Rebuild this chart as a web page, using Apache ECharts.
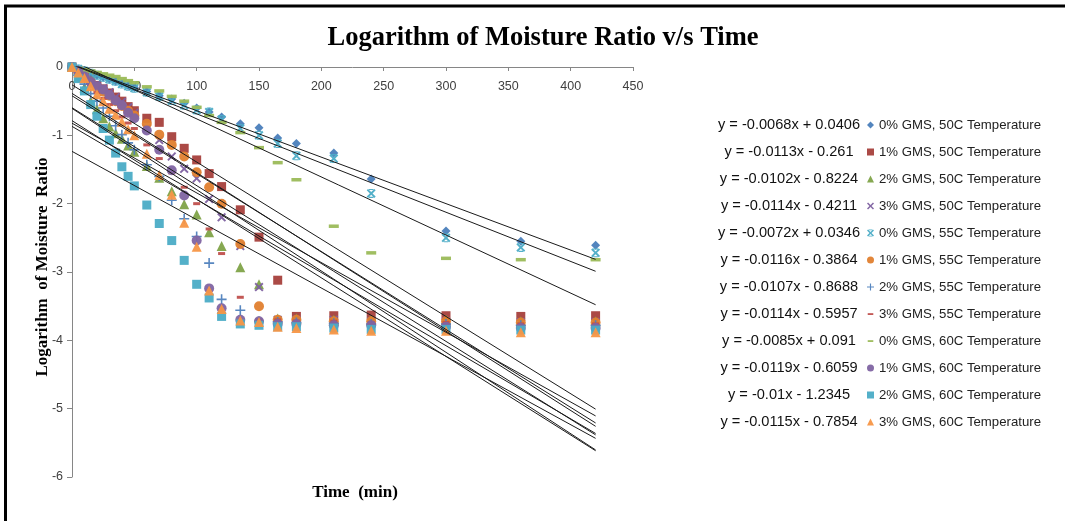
<!DOCTYPE html>
<html>
<head>
<meta charset="utf-8">
<script src="https://cdn.jsdelivr.net/npm/echarts@6/dist/echarts.min.js"></script>
<style>html,body{margin:0;padding:0;background:#fff;}#c{width:1065px;height:521px;}</style>
</head>
<body>
<div id="c"></div>
<script>
const time = [0,5,10,15,20,25,30,35,40,45,50,60,70,80,90,100,110,120,135,150,165,180,210,240,300,360,420];

const seriesNames = [
  '0% GMS, 50C Temperature','1% GMS, 50C Temperature','2% GMS, 50C Temperature','3% GMS, 50C Temperature',
  '0% GMS, 55C Temperature','1% GMS, 55C Temperature','2% GMS, 55C Temperature','3% GMS, 55C Temperature',
  '0% GMS, 60C Temperature','1% GMS, 60C Temperature','2% GMS, 60C Temperature','3% GMS, 60C Temperature'
];

const gms0_50C = [0,-0.03,-0.06,-0.09,-0.12,-0.15,-0.18,-0.21,-0.24,-0.27,-0.3,-0.36,-0.42,-0.47,-0.53,-0.6,-0.66,-0.73,-0.83,-0.89,-1.04,-1.12,-1.26,-1.64,-2.40,-2.55,-2.61];
const gms1_50C = [0,-0.06,-0.12,-0.2,-0.27,-0.32,-0.38,-0.44,-0.5,-0.58,-0.64,-0.75,-0.81,-1.02,-1.19,-1.36,-1.56,-1.75,-2.09,-2.49,-3.12,-3.65,-3.64,-3.63,-3.64,-3.65,-3.64];
const gms2_50C = [0,-0.15,-0.3,-0.5,-0.62,-0.75,-0.87,-0.97,-1.05,-1.15,-1.24,-1.45,-1.62,-1.82,-2.01,-2.16,-2.42,-2.62,-2.93,-3.18,-3.68,-3.68,-3.7,-3.7,-3.7,-3.72,-3.72];
const gms3_50C = [0,-0.05,-0.12,-0.18,-0.25,-0.31,-0.37,-0.44,-0.51,-0.59,-0.67,-0.9,-1.07,-1.31,-1.49,-1.63,-1.93,-2.2,-2.62,-3.22,-3.7,-3.7,-3.7,-3.72,-3.72,-3.73,-3.73];
const gms0_55C = [0,-0.03,-0.06,-0.09,-0.12,-0.15,-0.18,-0.21,-0.25,-0.28,-0.31,-0.37,-0.43,-0.49,-0.56,-0.63,-0.66,-0.77,-0.9,-1.0,-1.12,-1.3,-1.34,-1.85,-2.5,-2.64,-2.72];
const gms1_55C = [0,-0.07,-0.14,-0.22,-0.3,-0.36,-0.42,-0.5,-0.57,-0.64,-0.71,-0.83,-0.99,-1.14,-1.31,-1.54,-1.76,-2.0,-2.59,-3.5,-3.7,-3.7,-3.72,-3.72,-3.72,-3.74,-3.74];
const gms2_55C = [0,-0.12,-0.25,-0.39,-0.5,-0.6,-0.72,-0.86,-0.99,-1.11,-1.21,-1.43,-1.6,-1.95,-2.22,-2.48,-2.87,-3.4,-3.56,-3.72,-3.73,-3.74,-3.75,-3.76,-3.76,-3.78,-3.78];
const gms3_55C = [0,-0.1,-0.19,-0.28,-0.37,-0.46,-0.55,-0.64,-0.73,-0.82,-0.9,-1.14,-1.34,-1.55,-1.76,-2.0,-2.37,-2.73,-3.37,-3.7,-3.7,-3.72,-3.72,-3.74,-3.74,-3.76,-3.76];
const gms0_60C = [0,-0.02,-0.04,-0.06,-0.08,-0.1,-0.12,-0.14,-0.17,-0.2,-0.23,-0.29,-0.35,-0.43,-0.5,-0.59,-0.71,-0.81,-0.96,-1.18,-1.4,-1.65,-2.33,-2.72,-2.8,-2.82,-2.82];
const gms1_60C = [0,-0.06,-0.14,-0.22,-0.28,-0.33,-0.41,-0.49,-0.56,-0.67,-0.75,-0.93,-1.21,-1.51,-1.88,-2.54,-3.24,-3.53,-3.7,-3.72,-3.76,-3.76,-3.78,-3.78,-3.8,-3.82,-3.82];
const gms2_60C = [0,-0.17,-0.35,-0.55,-0.72,-0.9,-1.07,-1.26,-1.46,-1.6,-1.74,-2.02,-2.29,-2.54,-2.83,-3.18,-3.38,-3.65,-3.76,-3.78,-3.8,-3.8,-3.82,-3.84,-3.84,-3.85,-3.85];
const gms3_60C = [0,-0.08,-0.16,-0.28,-0.4,-0.5,-0.61,-0.7,-0.8,-0.91,-1.0,-1.27,-1.58,-1.87,-2.28,-2.63,-3.27,-3.54,-3.71,-3.73,-3.8,-3.82,-3.84,-3.86,-3.86,-3.88,-3.88];

const slopes = [-0.0068,-0.0113,-0.0102,-0.0114,-0.0072,-0.0116,-0.0107,-0.0114,-0.0085,-0.0119,-0.01,-0.0115];
const intercepts = [0.0406,-0.261,-0.8224,-0.4211,0.0346,-0.3864,-0.8688,-0.5957,0.091,-0.6059,-1.2345,-0.7854];
const equations = [
  'y = -0.0068x + 0.0406','y = -0.0113x - 0.261','y = -0.0102x - 0.8224','y = -0.0114x - 0.4211',
  'y = -0.0072x + 0.0346','y = -0.0116x - 0.3864','y = -0.0107x - 0.8688','y = -0.0114x - 0.5957',
  'y = -0.0085x + 0.091','y = -0.0119x - 0.6059','y = -0.01x - 1.2345','y = -0.0115x - 0.7854'
];
const trendEnd = 420;
const xTicks = [0, 450, 50];
const yTicks = [-6, 0, 1];

const allValues = [gms0_50C,gms1_50C,gms2_50C,gms3_50C,gms0_55C,gms1_55C,gms2_55C,gms3_55C,gms0_60C,gms1_60C,gms2_60C,gms3_60C];

// styles
const X_PATH = 'path://M0,1.5L1.5,0L5,3.5L8.5,0L10,1.5L6.5,5L10,8.5L8.5,10L5,6.5L1.5,10L0,8.5L3.5,5Z';
const STAR_PATH = 'path://M0,1.5L1.5,0L5,3.5L8.5,0L10,1.5L6.5,5L10,8.5L8.5,10L5,6.5L1.5,10L0,8.5L3.5,5Z M2.5,0H7.5V1.2H2.5Z M2.5,8.8H7.5V10H2.5Z';
const PLUS_PATH = 'path://M4.2,0H5.8V4.2H10V5.8H5.8V10H4.2V5.8H0V4.2H4.2Z';
const DASH_ICON = 'path://M0,0M10,10M1,3.8H9V6.4H1Z';
const styles = [
  {symbol:'diamond', size:9, color:'#4A7EBB', icon:'diamond'},
  {symbol:'rect', size:9, color:'#A6403C', icon:'rect'},
  {symbol:'triangle', size:10, color:'#7FA348', icon:'triangle'},
  {symbol:X_PATH, size:9, color:'#7D60A0', icon:X_PATH},
  {symbol:STAR_PATH, size:9, color:'#4BACC6', icon:STAR_PATH},
  {symbol:'circle', size:10, color:'#E0802F', icon:'circle'},
  {symbol:PLUS_PATH, size:10, color:'#4F81BD', icon:PLUS_PATH},
  {symbol:'rect', size:[7,3], color:'#C0504D', icon:DASH_ICON},
  {symbol:'rect', size:[10,3.5], color:'#9BBB59', icon:DASH_ICON},
  {symbol:'circle', size:10, color:'#8064A2', icon:'circle'},
  {symbol:'rect', size:9, color:'#4BACC6', icon:'rect'},
  {symbol:'triangle', size:10, color:'#F79646', icon:'triangle'}
];

const series = [];
seriesNames.forEach((name, i) => {
  series.push({
    name: name,
    type: 'scatter',
    symbol: styles[i].symbol,
    symbolSize: styles[i].size,
    itemStyle: {color: styles[i].color, opacity: 0.95},
    z: 2,
    data: time.map((t, k) => [t, allValues[i][k]])
  });
});
seriesNames.forEach((name, i) => {
  series.push({
    name: 'trend' + i,
    type: 'line',
    symbol: 'none',
    silent: true,
    z: 3,
    lineStyle: {color: '#1a1a1a', width: 1},
    data: [[0, intercepts[i]], [trendEnd, slopes[i] * trendEnd + intercepts[i]]]
  });
});

const rowY0 = 125, rowGap = 27;
const graphics = [
  {type:'line', shape:{x1:4, y1:6, x2:1065, y2:6}, style:{stroke:'#000', lineWidth:3}},
  {type:'line', shape:{x1:5.5, y1:5, x2:5.5, y2:521}, style:{stroke:'#000', lineWidth:3}},
  {type:'text', x:355, y:493, style:{text:'Time  (min)', font:'bold 17px "Liberation Serif"', fill:'#000', textAlign:'center', textVerticalAlign:'middle'}},
  {type:'text', x:43, y:267, rotation:Math.PI/2, style:{text:'Logarithm  of Moisture  Ratio', font:'bold 17px "Liberation Serif"', fill:'#000', textAlign:'center', textVerticalAlign:'middle'}}
];
equations.forEach((eq, i) => {
  graphics.push({type:'text', x:789, y:rowY0 + rowGap * i, style:{text:eq, font:'14.6px "Liberation Sans"', fill:'#111', textAlign:'center', textVerticalAlign:'middle'}});
});

const chart = echarts.init(document.getElementById('c'), null, {renderer:'canvas'});
chart.setOption({
  animation: false,
  backgroundColor: '#fff',
  title: {
    text: 'Logarithm of Moisture Ratio v/s Time',
    left: 538, top: 20, textAlign: 'center',
    textStyle: {fontFamily:'Liberation Serif', fontWeight:'bold', fontSize:26.5, color:'#000'}
  },
  grid: {left:72, top:67, width:561, height:410, containLabel:false},
  xAxis: {
    type:'value', position:'top', min:xTicks[0], max:xTicks[1], interval:xTicks[2],
    axisLine:{onZero:false, lineStyle:{color:'#868686'}},
    axisTick:{show:true, inside:true, length:4, lineStyle:{color:'#868686'}},
    axisLabel:{inside:true, color:'#404040', fontSize:12.5, fontFamily:'Liberation Sans', margin:13},
    splitLine:{show:false}
  },
  yAxis: {
    type:'value', min:yTicks[0], max:yTicks[1], interval:yTicks[2],
    axisLine:{show:true, lineStyle:{color:'#868686'}},
    axisTick:{show:true, length:5, lineStyle:{color:'#868686'}},
    axisLabel:{color:'#404040', fontSize:12.5, fontFamily:'Liberation Sans', margin:9},
    splitLine:{show:false}
  },
  legend: {
    orient:'vertical', left:862, top:113,
    itemWidth:7, itemHeight:7, itemGap:13,
    textStyle:{fontSize:13.2, fontFamily:'Liberation Sans', color:'#222', lineHeight:14},
    data: seriesNames.map((n, i) => ({name:n, icon:styles[i].icon, itemStyle:{color:styles[i].color}}))
  },
  graphic: graphics,
  series: series
});
</script>
</body>
</html>
